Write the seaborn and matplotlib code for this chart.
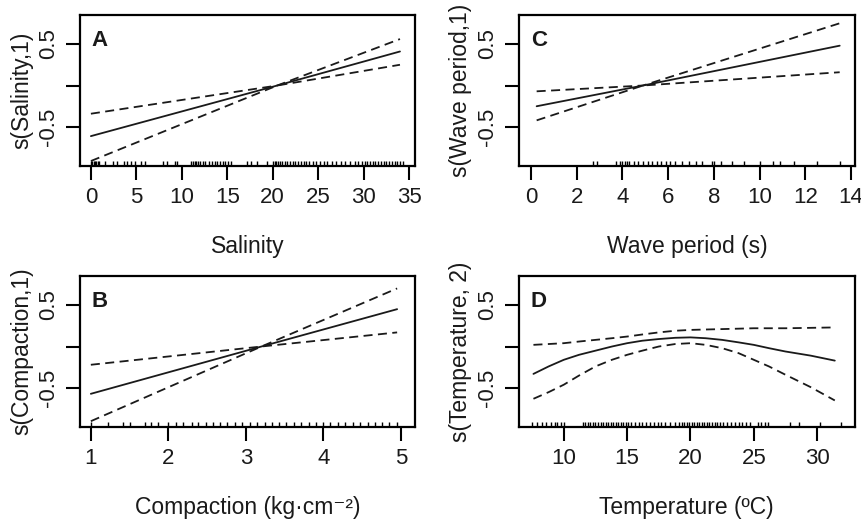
import seaborn as sns
import matplotlib.pyplot as plt

# Panel A - salinity (edf 1)
sal_x = [0, 20.5, 34]
sal_fit = [-0.61, 0.0, 0.41]
sal_hi = [-0.34, 0.0, 0.56]
sal_lo = [-0.91, 0.0, 0.25]
sal_rug = [0.0, 0.15, 0.3, 0.45, 0.6, 0.75, 0.9, 1.6, 2.4, 2.9, 3.6, 4.0, 4.4, 4.9,
           5.5, 6.0, 7.9, 8.4, 9.2, 9.5, 11.0, 11.2, 11.4, 11.6, 11.8, 12.0, 12.3,
           12.6, 13.0, 13.3, 13.6, 13.9, 14.2, 14.5, 14.8, 15.1, 15.4, 17.2, 17.6,
           18.3, 19.4, 20.0, 20.2, 20.4, 20.6, 20.8, 21.0, 21.3, 21.6, 21.9, 22.2,
           22.5, 22.8, 23.1, 23.4, 23.7, 24.0, 24.4, 24.8, 25.2, 25.6, 26.0, 26.5,
           27.0, 27.5, 28.0, 28.5, 29.0, 29.4, 29.8, 30.1, 30.4, 30.7, 31.0, 31.3,
           31.6, 31.9, 32.2, 32.5, 32.8, 33.1, 33.4, 33.7, 34.0, 34.3]

# Panel C - wave period (edf 1)
wav_x = [0.25, 4.9, 13.5]
wav_fit = [-0.25, 0.0, 0.48]
wav_hi = [-0.07, 0.0, 0.75]
wav_lo = [-0.42, 0.0, 0.16]
wav_rug = [2.7, 2.9, 3.7, 3.9, 4.0, 4.1, 4.2, 4.3, 4.5, 4.7, 4.9, 5.1, 5.3, 5.5,
           5.7, 5.9, 6.1, 6.3, 6.6, 6.9, 7.2, 7.5, 7.9, 8.0, 8.3, 8.8, 9.3, 10.0,
           10.6, 10.9, 11.5, 12.5, 13.5]

# Panel B - compaction (edf 1)
com_x = [1.0, 3.2, 4.95]
com_fit = [-0.57, 0.0, 0.45]
com_hi = [-0.22, 0.0, 0.70]
com_lo = [-0.90, 0.0, 0.17]
com_rug = [1.0, 1.22, 1.42, 1.5, 1.7, 1.78, 1.87, 2.0, 2.1, 2.19, 2.3, 2.38, 2.48,
           2.57, 2.67, 2.76, 2.86, 2.95, 3.05, 3.14, 3.24, 3.33, 3.43, 3.52, 3.62,
           3.71, 3.81, 3.9, 4.0, 4.09, 4.19, 4.28, 4.38, 4.47, 4.57, 4.66, 4.76,
           4.85, 4.95]

# Panel D - temperature (edf 2)
tem_x = [7.6, 8.8, 10.0, 11.2, 12.5, 13.8, 15.0, 16.2, 17.5, 18.8, 20.0, 21.2,
         22.5, 23.8, 25.0, 26.2, 27.5, 29.5, 31.4]
tem_fit = [-0.33, -0.24, -0.16, -0.10, -0.05, 0.0, 0.04, 0.07, 0.09, 0.105, 0.11,
           0.10, 0.08, 0.05, 0.02, -0.02, -0.06, -0.11, -0.17]
tem_hi = [0.02, 0.03, 0.04, 0.06, 0.08, 0.10, 0.12, 0.145, 0.17, 0.19, 0.20, 0.205,
          0.21, 0.215, 0.22, 0.22, 0.22, 0.225, 0.23]
tem_lo = [-0.63, -0.55, -0.46, -0.35, -0.24, -0.16, -0.10, -0.05, 0.0, 0.03, 0.04,
          0.02, -0.02, -0.08, -0.16, -0.24, -0.34, -0.49, -0.65]
tem_rug = [7.5, 7.9, 8.3, 8.6, 9.0, 9.3, 9.5, 9.8, 10.0, 11.5, 11.7, 11.9, 12.1,
           12.3, 12.5, 12.7, 12.9, 13.1, 13.3, 13.5, 13.7, 13.9, 14.1, 14.3, 14.5,
           14.7, 14.9, 15.1, 15.3, 15.6, 15.9, 16.2, 16.5, 16.8, 17.1, 17.4, 17.7,
           18.0, 18.4, 18.8, 19.1, 19.3, 19.5, 19.7, 19.9, 20.1, 20.3, 20.5, 20.7,
           20.9, 21.1, 21.3, 21.5, 21.7, 21.9, 22.1, 22.3, 22.6, 22.9, 23.2, 23.5,
           23.8, 24.1, 24.4, 24.7, 25.3, 25.6, 25.9, 26.1, 27.9, 28.6, 30.2, 31.9]

sns.set_style("ticks")
plt.rcParams["font.family"] = ["Liberation Sans", "DejaVu Sans"]

INK = "#1a1a1a"


def panel(ax, x, fit, hi, lo, rug, xlim, xticks, xlabel, ylabel, letter):
    sns.lineplot(x=x, y=fit, ax=ax, color=INK, lw=1.3)
    for band in (hi, lo):
        sns.lineplot(x=x, y=band, ax=ax, color=INK, lw=1.3,
                     linestyle=(0, (5, 3)))
    sns.rugplot(x=rug, ax=ax, height=0.03, color="black", lw=1.8)
    ax.set_xlim(*xlim)
    ax.set_ylim(-0.97, 0.85)
    ax.set_xticks(xticks)
    ax.set_xticklabels([str(t) for t in xticks])
    ax.set_yticks([-0.5, 0, 0.5])
    ax.set_yticklabels(["-0.5", "", "0.5"], rotation=90, va="center")
    ax.tick_params(length=10, width=1.5, labelsize=16, pad=5, color="black",
                   labelcolor=INK)
    for s in ax.spines.values():
        s.set_visible(True)
        s.set_linewidth(1.6)
        s.set_color("black")
    ax.set_xlabel(xlabel, fontsize=16.5, color=INK, va="top")
    ax.xaxis.set_label_coords(0.5, -0.455)
    ax.set_ylabel(ylabel, fontsize=16.5, color=INK)
    ax.yaxis.set_label_coords(-0.14, 0.5)
    ax.text(0.035, 0.9, letter, transform=ax.transAxes, fontsize=16,
            fontweight="bold", va="top", ha="left", color=INK)


fig = plt.figure(figsize=(8.62, 5.22), dpi=100)
axA = fig.add_axes([0.0928, 0.682, 0.3886, 0.2893])
axC = fig.add_axes([0.6024, 0.682, 0.3895, 0.2893])
axB = fig.add_axes([0.0928, 0.182, 0.3886, 0.2893])
axD = fig.add_axes([0.6018, 0.182, 0.3897, 0.2893])

panel(axA, sal_x, sal_fit, sal_hi, sal_lo, sal_rug, (-1.2, 35.65),
      [0, 5, 10, 15, 20, 25, 30, 35], "Salinity", "s(Salinity,1)", "A")
panel(axC, wav_x, wav_fit, wav_hi, wav_lo, wav_rug, (-0.51, 14.17),
      [0, 2, 4, 6, 8, 10, 12, 14], "Wave period (s)", "s(Wave period,1)", "C")
panel(axB, com_x, com_fit, com_hi, com_lo, com_rug, (0.86, 5.18),
      [1, 2, 3, 4, 5], "Compaction (kg·cm⁻²)", "s(Compaction,1)", "B")
panel(axD, tem_x, tem_fit, tem_hi, tem_lo, tem_rug, (6.44, 32.97),
      [10, 15, 20, 25, 30], "Temperature (ºC)", "s(Temperature, 2)", "D")

plt.savefig("out.png", dpi=100)
